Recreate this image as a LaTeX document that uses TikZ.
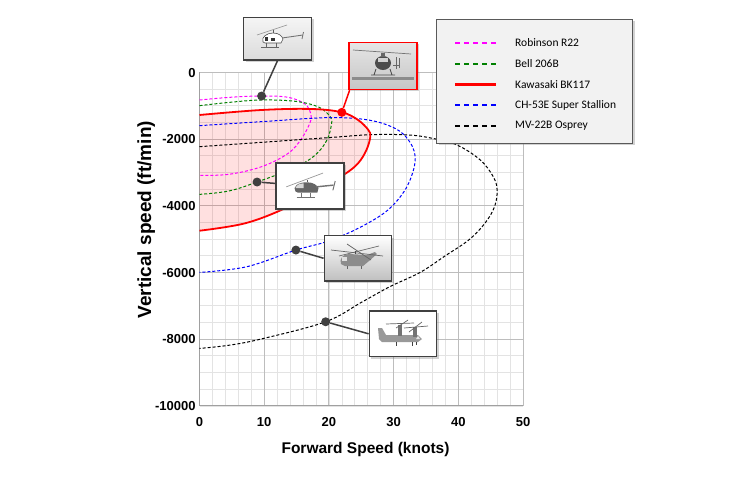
\documentclass[tikz,border=0pt]{standalone}
\usepackage{fontspec}
\setmainfont{Liberation Sans}
\newfontfamily\legfont{Carlito}
\usetikzlibrary{shadows,calc}
\definecolor{gridminor}{HTML}{E3E3E3}
\definecolor{gridmajor}{HTML}{BDBDBD}
\definecolor{axisgray}{HTML}{A0A0A0}
\definecolor{dotgray}{HTML}{404040}
\definecolor{mygreen}{HTML}{008000}
\definecolor{mymagenta}{HTML}{FF00FF}
\definecolor{myblue}{HTML}{0000FF}
\definecolor{myred}{HTML}{FF0000}
\definecolor{legbg}{HTML}{F2F2F2}
\tikzset{
  dashcurve/.style={line width=1pt, dash pattern=on 3pt off 2pt},
  legdash/.style={line width=2pt, dash pattern=on 5pt off 4pt},
  dotnode/.style={circle, fill=dotgray, inner sep=0pt, minimum size=9pt},
  leader/.style={dotgray, line width=1.5pt},
  photo/.style={draw=black!75, line width=1.4pt, inner sep=0pt,
    drop shadow={shadow xshift=2pt, shadow yshift=-2pt, opacity=0.35}},
  ticklab/.style={font=\bfseries\fontsize{13}{15}\selectfont, inner sep=0pt},
  legtext/.style={font=\legfont\fontsize{11.5}{13}\selectfont, anchor=west, inner sep=0pt},
  heli/.pic={
    \fill[black!60] (-10,-3) .. controls (-13,1) and (-8,5) .. (0,5) .. controls (6,5) and (9,2) .. (10,0) -- (9,-4) -- (-8,-4) -- cycle;
    \fill[gray!30] (-10,0) .. controls (-9,3) and (-6,4) .. (-3,4) -- (-3,0) -- cycle;
    \draw[black!55, line width=1.4pt] (8,1) -- (23,2.5);
    \draw[black!55, line width=1pt] (22.5,-2) -- (24.5,6);
    \draw[black!40, line width=0.7pt] (-18,1) -- (14,13);
    \draw[black!65, line width=0.8pt] (0,5) -- (0,7);
    \draw[black!55, line width=0.7pt] (-9,-8) -- (7,-8) (-5,-4) -- (-5,-8) (3,-4) -- (3,-8);
  },
  heliwhite/.pic={
    \filldraw[fill=white, draw=black!70, line width=0.6pt] (-14,-3) .. controls (-16,2) and (-10,6) .. (-4,6) .. controls (2,6) and (5,3) .. (6,0) -- (4,-4) -- (-12,-4) -- cycle;
    \fill[black!80] (-12,-2) rectangle (-9,2);
    \fill[black!80] (-6,-2) rectangle (-2,1);
    \draw[black!55, line width=0.9pt] (5,1) -- (26,4);
    \draw[black!55, line width=0.8pt] (25,0) -- (26.5,7);
    \draw[black!45, line width=0.6pt] (-20,4) -- (10,14);
    \draw[black!65, line width=0.8pt] (-4,6) -- (-4,9);
    \draw[black!60, line width=0.6pt] (-16,-8) -- (2,-8) (-11,-4) -- (-11,-8) (-1,-4) -- (-1,-8);
  },
  helifront/.pic={
    \fill[black!70] (0,0) ellipse (8pt and 7pt);
    \fill[gray!35] (-5,1) rectangle (5,5);
    \fill[black!60] (-2,6) rectangle (2,10);
    \draw[black!55, line width=0.7pt] (-30,13) -- (28,9);
    \draw[black!60, line width=0.8pt] (10,-2) -- (16,-2) (13,-6) -- (13,6) (16,-5) -- (16,5);
    \draw[black!70, line width=0.9pt] (-12,-12) -- (12,-12) (-7,-6) -- (-9,-12) (7,-6) -- (9,-12);
    \fill[black!45] (-31,-17) rectangle (31,-14);
  },
  heavy/.pic={
    \fill[black!45] (-16,-6) .. controls (-18,-1) and (-14,4) .. (-8,4) -- (10,3) -- (18,6) -- (20,4) -- (12,-3) -- (6,-8) -- (-12,-8) -- cycle;
    \fill[gray!25] (-15,-3) rectangle (-10,1);
    \draw[black!60, line width=0.7pt] (-26,8) -- (26,2);
    \draw[black!60, line width=0.7pt] (-10,14) -- (14,-2);
    \draw[black!60, line width=0.7pt] (-18,2) -- (22,12);
    \draw[black!70, line width=0.8pt] (-2,4) -- (-2,7);
    \draw[black!60, line width=0.7pt] (-10,-8) -- (-10,-11) (4,-8) -- (4,-11);
  },
  tilt/.pic={
    \fill[black!40] (-22,-6) -- (14,-6) -- (18,-3) -- (14,1) -- (-18,1) -- (-22,8) -- (-26,8) -- (-25,-3) -- cycle;
    \fill[gray!20] (12,-3) -- (16,-3) -- (14,0) -- cycle;
    \fill[black!55] (-6,0) rectangle (-2,11);
    \fill[black!55] (9,-1) rectangle (13,9);
    \draw[black!60, line width=0.7pt] (-18,12) -- (10,13);
    \draw[black!60, line width=0.7pt] (-8,8) -- (4,16);
    \draw[black!60, line width=0.7pt] (0,8) -- (24,10);
    \draw[black!60, line width=0.7pt] (5,4) -- (18,14);
    \draw[black!75, line width=0.9pt] (-8,-6) -- (-8,-10) (8,-6) -- (8,-10) (12,-6) -- (12,-9);
  }
}
\begin{document}
\begin{tikzpicture}[x=1pt,y=1pt]
\fill[white] (0,0) rectangle (745,-485);
\useasboundingbox (0,0) rectangle (745,-485);

\begin{scope}[shift={(199.5pt,-72.3pt)}, x=6.47pt, y=33.35pt]
  % grid
  \foreach \i in {0,2,...,50} \draw[gridminor, line width=0.6pt] (\i,0) -- (\i,-10);
  \foreach \j in {0,0.5,...,10} \draw[gridminor, line width=0.6pt] (0,-\j) -- (50,-\j);
  \foreach \i in {0,10,...,50} \draw[gridmajor, line width=0.9pt] (\i,0) -- (\i,-10);
  \foreach \j in {0,2,...,10} \draw[gridmajor, line width=0.9pt] (0,-\j) -- (50,-\j);
  \draw[axisgray, line width=1.1pt] (0,0) -- (0,-10) -- (50,-10);

  % pink region (Kawasaki)
  \fill[myred, fill opacity=0.12] plot[smooth, tension=0.6] coordinates {(0,-1.28) (9.6,-1.13) (17.3,-1.10) (22,-1.2) (24.5,-1.43) (26.1,-1.73) (26.4,-1.93) (25.8,-2.33) (24.5,-2.73) (22.4,-3.06) (18,-3.58) (13.1,-4.09) (7,-4.53) (0,-4.75)} -- cycle;

  % curves
  \draw[mymagenta, dashcurve] plot[smooth, tension=0.6] coordinates {(0,-0.831) (4.7,-0.75) (9.6,-0.711) (13.7,-0.75) (16.3,-0.95) (17.2,-1.25) (17.1,-1.5) (15.8,-1.98) (13.7,-2.43) (9.6,-2.83) (4.5,-3.06) (0,-3.09)};
  \draw[mygreen, dashcurve] plot[smooth, tension=0.6] coordinates {(0,-1.0) (4.7,-0.9) (9.6,-0.83) (14.8,-0.87) (18.4,-1.04) (20.2,-1.33) (20.4,-1.55) (19.7,-2.03) (17.9,-2.48) (14.8,-2.85) (8.9,-3.29) (4.5,-3.56) (0,-3.66)};
  \draw[myblue, dashcurve] plot[smooth, tension=0.6] coordinates {(0,-1.6) (9.6,-1.48) (19.9,-1.36) (26.1,-1.43) (30.2,-1.68) (32.3,-2.03) (33.3,-2.48) (33,-2.98) (31.6,-3.58) (28.8,-4.18) (24.3,-4.7) (19.6,-5.08) (14.9,-5.33) (7.3,-5.83) (0,-6.0)};
  \draw[black, dashcurve] plot[smooth, tension=0.6] coordinates {(0,-2.23) (9.6,-2.1) (19.9,-1.96) (26.6,-1.87) (32.3,-1.88) (36,-1.98) (39.8,-2.18) (43.4,-2.63) (45.4,-3.13) (46,-3.53) (45.6,-4.03) (44.1,-4.53) (41.6,-5.03) (38,-5.5) (34.1,-6.0) (29.5,-6.42) (25,-6.9) (19.5,-7.48) (9.9,-7.98) (4.7,-8.18) (0,-8.28)};
  \draw[myred, line width=1.8pt] plot[smooth, tension=0.6] coordinates {(0,-1.28) (9.6,-1.13) (17.3,-1.10) (22,-1.2) (24.5,-1.43) (26.1,-1.73) (26.4,-1.93) (25.8,-2.33) (24.5,-2.73) (22.4,-3.06) (18,-3.58) (13.1,-4.09) (7,-4.53) (0,-4.75)};

  % dots
  \node[dotnode] (dR22) at (9.6,-0.711) {};
  \node[dotnode, fill=myred] (dBK) at (22,-1.2) {};
  \node[dotnode] (dBell) at (8.9,-3.29) {};
  \node[dotnode] (dCH) at (14.9,-5.33) {};
  \node[dotnode] (dMV) at (19.5,-7.48) {};

  % tick labels
  \foreach \v/\w in {0/0,-2000/-2,-4000/-4,-6000/-6,-8000/-8,-10000/-10}
    \node[ticklab, anchor=base east] at ($(0,\w)+(-3.8pt,-4.7pt)$) {\v};
  \foreach \v in {0,10,...,50}
    \node[ticklab, anchor=base] at ($(\v,-10)+(0,-21pt)$) {\v};
\end{scope}

% photo boxes
\node[photo, minimum width=68pt, minimum height=42.7pt, top color=gray!8, bottom color=gray!28] (bR22) at (277.5,-38.7) {};
\pic at (277,-39) {heliwhite};
\node[photo, draw=myred, minimum width=68pt, minimum height=47pt, top color=gray!20, bottom color=gray!45] (bBK) at (383,-65.8) {};
\pic at (383,-63) {helifront};
\node[photo, minimum width=68pt, minimum height=46pt, fill=white] (bBell) at (310,-186) {};
\pic[scale=1.15] at (307,-188) {heli};
\node[photo, minimum width=67.4pt, minimum height=45.3pt, top color=white, bottom color=gray!50] (bCH) at (358,-258.3) {};
\pic at (357,-258) {heavy};
\node[photo, minimum width=67.4pt, minimum height=45.7pt, fill=white] (bMV) at (403,-333.8) {};
\pic at (404,-336) {tilt};

% leader lines
\draw[leader] (dR22) -- (bR22.south);
\draw[leader, myred] (dBK) -- (bBK.216);
\draw[leader] (dBell) -- (bBell);
\draw[leader] (dCH) -- (bCH.west);
\draw[leader] (dMV) -- (bMV.west);

% legend
\node[draw=black!65, line width=1pt, fill=legbg, minimum width=196pt, minimum height=124pt, inner sep=0pt,
  drop shadow={shadow xshift=2pt, shadow yshift=-2pt, opacity=0.35}] (leg) at (534.7,-81.3) {};
\draw[mymagenta, legdash] (455,-42.7) -- (496,-42.7);
\draw[mygreen, legdash] (455,-63.5) -- (496,-63.5);
\draw[myred, line width=2.5pt] (455,-84.3) -- (496,-84.3);
\draw[myblue, legdash] (455,-105) -- (496,-105);
\draw[black, legdash] (455,-125.7) -- (496,-125.7);
\node[legtext] (t1) at (515,-42.7) {Robinson R22};
\node[legtext] (t2) at (515,-63.5) {Bell 206B};
\node[legtext] (t3) at (515,-84.3) {Kawasaki BK117};
\node[legtext] (t4) at (515,-105) {CH-53E Super Stallion};
\node[legtext] (t5) at (515,-125.7) {MV-22B Osprey};

% axis titles
\node[font=\bfseries\fontsize{15.5}{18}\selectfont, anchor=base, inner sep=0pt] (xlab) at (365.5,-453.3) {Forward Speed (knots)};
\node[font=\bfseries\fontsize{19}{22}\selectfont, anchor=base, rotate=90, inner sep=0pt] (ylab) at (151,-219.7) {Vertical speed (ft/min)};
\end{tikzpicture}
\end{document}
